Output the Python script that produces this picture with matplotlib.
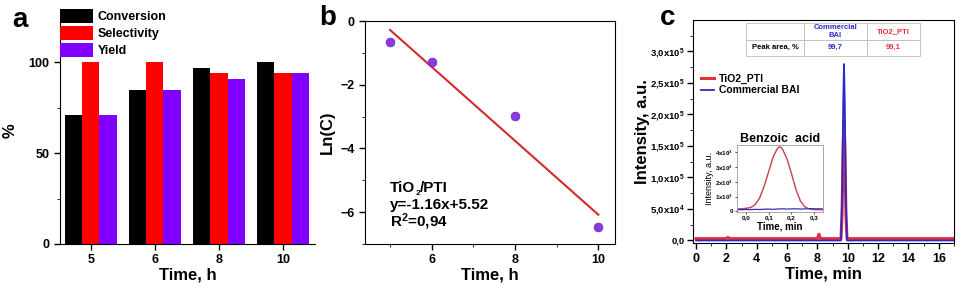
import matplotlib
matplotlib.use("Agg")
import matplotlib.pyplot as plt
import numpy as np
from matplotlib.ticker import MultipleLocator, FixedLocator

plt.rcParams['font.family'] = ['Liberation Sans', 'DejaVu Sans']
plt.rcParams['font.weight'] = 'bold'
plt.rcParams['mathtext.fontset'] = 'custom'
plt.rcParams['mathtext.rm'] = 'Liberation Sans:bold'
plt.rcParams['mathtext.bf'] = 'Liberation Sans:bold'
plt.rcParams['mathtext.it'] = 'Liberation Sans:bold'

# ---- panel a data ----
times_a = ["5", "6", "8", "10"]
conversion = [71, 85, 97, 100]
selectivity = [100, 100, 94, 94]
yield_ = [71, 85, 91, 94]

# ---- panel b data ----
time_b = [5, 6, 8, 10]
ln_c = [-0.65, -1.28, -2.98, -6.48]
fit_slope = -1.16
fit_intercept = 5.52

# ---- panel c data ----
chrom_time = [0, 2.0, 2.1, 2.2, 8.0, 8.1, 8.2, 9.55, 9.62, 9.7, 9.75, 9.8, 9.88, 9.95, 12.0, 17.0]
tio2_pti = [3000, 3000, 5000, 3000, 3000, 10000, 3000, 3000, 40000, 150000, 189000, 150000, 40000, 3000, 3000, 3000]
commercial = [0, 0, 0, 0, 0, 0, 0, 0, 60000, 220000, 280000, 220000, 60000, 0, 0, 0]

inset_time = [-0.04, 0.0, 0.02, 0.04, 0.06, 0.08, 0.10, 0.12, 0.14, 0.15, 0.16, 0.18, 0.20, 0.22, 0.24, 0.26, 0.28, 0.30, 0.34]
inset_tio2 = [150, 200, 250, 450, 900, 1700, 2700, 3700, 4300, 4380, 4250, 3600, 2600, 1500, 700, 300, 150, 120, 100]
inset_comm = [100, 120, 110, 130, 120, 140, 150, 130, 160, 150, 170, 150, 160, 170, 150, 160, 180, 170, 160]

table_cols = ["", "Commercial\nBAI", "TiO2_PTI"]
table_row = ["Peak area, %", "99,7", "99,1"]

W, H = 963, 291
fig = plt.figure(figsize=(W / 100, H / 100), dpi=100)

def ax_px(l, r, t, b):
    return fig.add_axes([l / W, (H - b) / H, (r - l) / W, (b - t) / H])

# ================= panel a =================
ax = ax_px(60, 315, 17, 244)
x = np.arange(len(times_a))
bw = 0.27
ax.bar(x - bw, conversion, bw, color='black', label='Conversion')
ax.bar(x, selectivity, bw, color='#ff0000', label='Selectivity')
ax.bar(x + bw, yield_, bw, color='#8000ff', label='Yield')
ax.set_xlim(-0.48, 3.5)
ax.set_ylim(0, 125)
ax.set_xticks(x)
ax.set_xticklabels(times_a)
ax.yaxis.set_major_locator(FixedLocator([0, 50, 100]))
ax.yaxis.set_minor_locator(FixedLocator([25, 75]))
for s in ['top', 'right']:
    ax.spines[s].set_visible(False)
ax.tick_params(labelsize=9, width=1, length=4)
ax.tick_params(which='minor', length=2.5)
ax.set_xlabel("Time, h", fontsize=12, fontweight='bold', labelpad=1)
ax.set_ylabel("%", fontsize=12, fontweight='bold', labelpad=8)
leg = ax.legend(loc='upper left', bbox_to_anchor=(0.0, 1.035), frameon=False,
                fontsize=9, handlelength=2.6, handleheight=1.3, labelspacing=0.25,
                handletextpad=0.4, borderaxespad=0, borderpad=0)
for t in leg.get_texts():
    t.set_fontweight('bold')
fig.text(20 / W, 1 - 20 / H, "a", fontsize=20, fontweight='bold', va='center', ha='center')

# ================= panel b =================
bx = ax_px(365, 615, 21, 244)
xf = np.array([time_b[0], time_b[-1]])
bx.plot(xf, fit_slope * xf + fit_intercept, color='#d42a2a', lw=1.5)
bx.scatter(time_b, ln_c, s=40, color='#8a3be0', edgecolors='#6a20c0', linewidths=0.5, zorder=3)
bx.set_xlim(4.4, 10.4)
bx.set_ylim(-7, 0)
bx.xaxis.set_major_locator(FixedLocator([6, 8, 10]))
bx.xaxis.set_minor_locator(FixedLocator([5, 7, 9]))
bx.yaxis.set_major_locator(FixedLocator([0, -2, -4, -6]))
bx.yaxis.set_minor_locator(FixedLocator([-1, -3, -5, -7]))
bx.tick_params(labelsize=9, width=1, length=4)
bx.tick_params(which='minor', length=2.5)
bx.set_xlabel("Time, h", fontsize=12, fontweight='bold', labelpad=1)
bx.set_ylabel("Ln(C)", fontsize=12, fontweight='bold', labelpad=4)
t1 = bx.text(0.10, 0.235, "TiO", transform=bx.transAxes, fontsize=11, fontweight='bold', va='baseline')
t2 = bx.annotate("2", xy=(1, 0), xycoords=t1, xytext=(0, -1.5), textcoords='offset points',
                 fontsize=6, fontweight='bold', va='bottom', ha='left')
bx.annotate("/PTI", xy=(1, 0), xycoords=t2, xytext=(0, 1.5), textcoords='offset points',
            fontsize=11, fontweight='bold', va='bottom', ha='left')
bx.text(0.10, 0.158, "y=-1.16x+5.52", transform=bx.transAxes, fontsize=11, fontweight='bold', va='baseline')
bx.text(0.10, 0.080, r"R$^{2}$=0,94", transform=bx.transAxes, fontsize=11, fontweight='bold', va='baseline')
fig.text(328 / W, 1 - 18 / H, "b", fontsize=20, fontweight='bold', va='center', ha='center')

# ================= panel c =================
cx = ax_px(693, 954, 20, 243)
cx.plot(chrom_time, tio2_pti, color='#e8303a', lw=2.2, label='TiO2_PTI')
cx.plot(chrom_time, commercial, color='#2a2ac8', lw=1.3, label='Commercial BAI')
cx.set_xlim(-0.2, 17)
cx.set_ylim(-4000, 3.5e5)
cx.xaxis.set_major_locator(MultipleLocator(2))
cx.xaxis.set_minor_locator(MultipleLocator(1))
yt = [0, 5e4, 1e5, 1.5e5, 2e5, 2.5e5, 3e5]
ytl = ["0,0", r"5,0x10$^{4}$", r"1,0x10$^{5}$", r"1,5x10$^{5}$", r"2,0x10$^{5}$", r"2,5x10$^{5}$", r"3,0x10$^{5}$"]
cx.set_yticks(yt)
cx.set_yticklabels(ytl)
cx.yaxis.set_minor_locator(FixedLocator([2.5e4, 7.5e4, 1.25e5, 1.75e5, 2.25e5, 2.75e5, 3.25e5]))
cx.tick_params(labelsize=6.8, width=1, length=4, pad=2)
cx.tick_params(axis='x', labelsize=9, pad=3)
cx.tick_params(which='minor', length=2.5)
cx.set_xlabel("Time, min", fontsize=12, fontweight='bold', labelpad=1)
cx.set_ylabel("Intensity, a.u.", fontsize=12, fontweight='bold', labelpad=0)
lg = cx.legend(loc='upper left', bbox_to_anchor=(0.03, 0.76), frameon=False, fontsize=7.5,
               handlelength=1.3, handletextpad=0.4, labelspacing=0.15, borderaxespad=0, borderpad=0)
fig.text(668 / W, 1 - 18 / H, "c", fontsize=20, fontweight='bold', va='center', ha='center')

# table
tab = cx.table(cellText=[table_row], colLabels=table_cols, cellLoc='center',
               bbox=[(746 - 693) / 261, 1 - (56 - 20) / 223, (920 - 746) / 261, (56 - 23) / 223],
               colWidths=[58, 63, 53])
tab.auto_set_font_size(False)
tab.set_fontsize(5.5)
colors = {(0, 1): '#2a2ac8', (0, 2): '#e8303a', (1, 1): '#2a2ac8', (1, 2): '#e8303a'}
for (r, c), cell in tab.get_celld().items():
    cell.set_edgecolor('#bbbbbb')
    cell.set_linewidth(0.6)
    cell.get_text().set_color(colors.get((r, c), 'black'))
    cell.get_text().set_fontweight('bold')

# inset
ix = ax_px(737, 823, 145, 212)
ix.plot(inset_time, inset_tio2, color='#c8404a', lw=1.0)
ix.plot(inset_time, inset_comm, color='#3030c8', lw=0.9)
ix.set_xlim(-0.04, 0.34)
ix.set_ylim(-50, 4500)
ix.set_xticks([0, 0.1, 0.2, 0.3])
ix.set_xticklabels(["0,0", "0,1", "0,2", "0,3"])
ix.set_yticks([0, 1000, 2000, 3000, 4000])
ix.set_yticklabels(["0", r"1x10$^{3}$", r"2x10$^{3}$", r"3x10$^{3}$", r"4x10$^{3}$"])
ix.tick_params(labelsize=4.5, width=0.5, length=1.5, pad=1)
for s in ix.spines.values():
    s.set_linewidth(0.5)
    s.set_color('#888888')
ix.set_xlabel("Time, min", fontsize=7, fontweight='bold', labelpad=1)
ix.set_ylabel("Intensity, a.u.", fontsize=6.5, fontweight='normal', labelpad=1)
ix.set_title("Benzoic  acid", fontsize=9, fontweight='bold', pad=2)

fig.savefig("out.png", dpi=100)
